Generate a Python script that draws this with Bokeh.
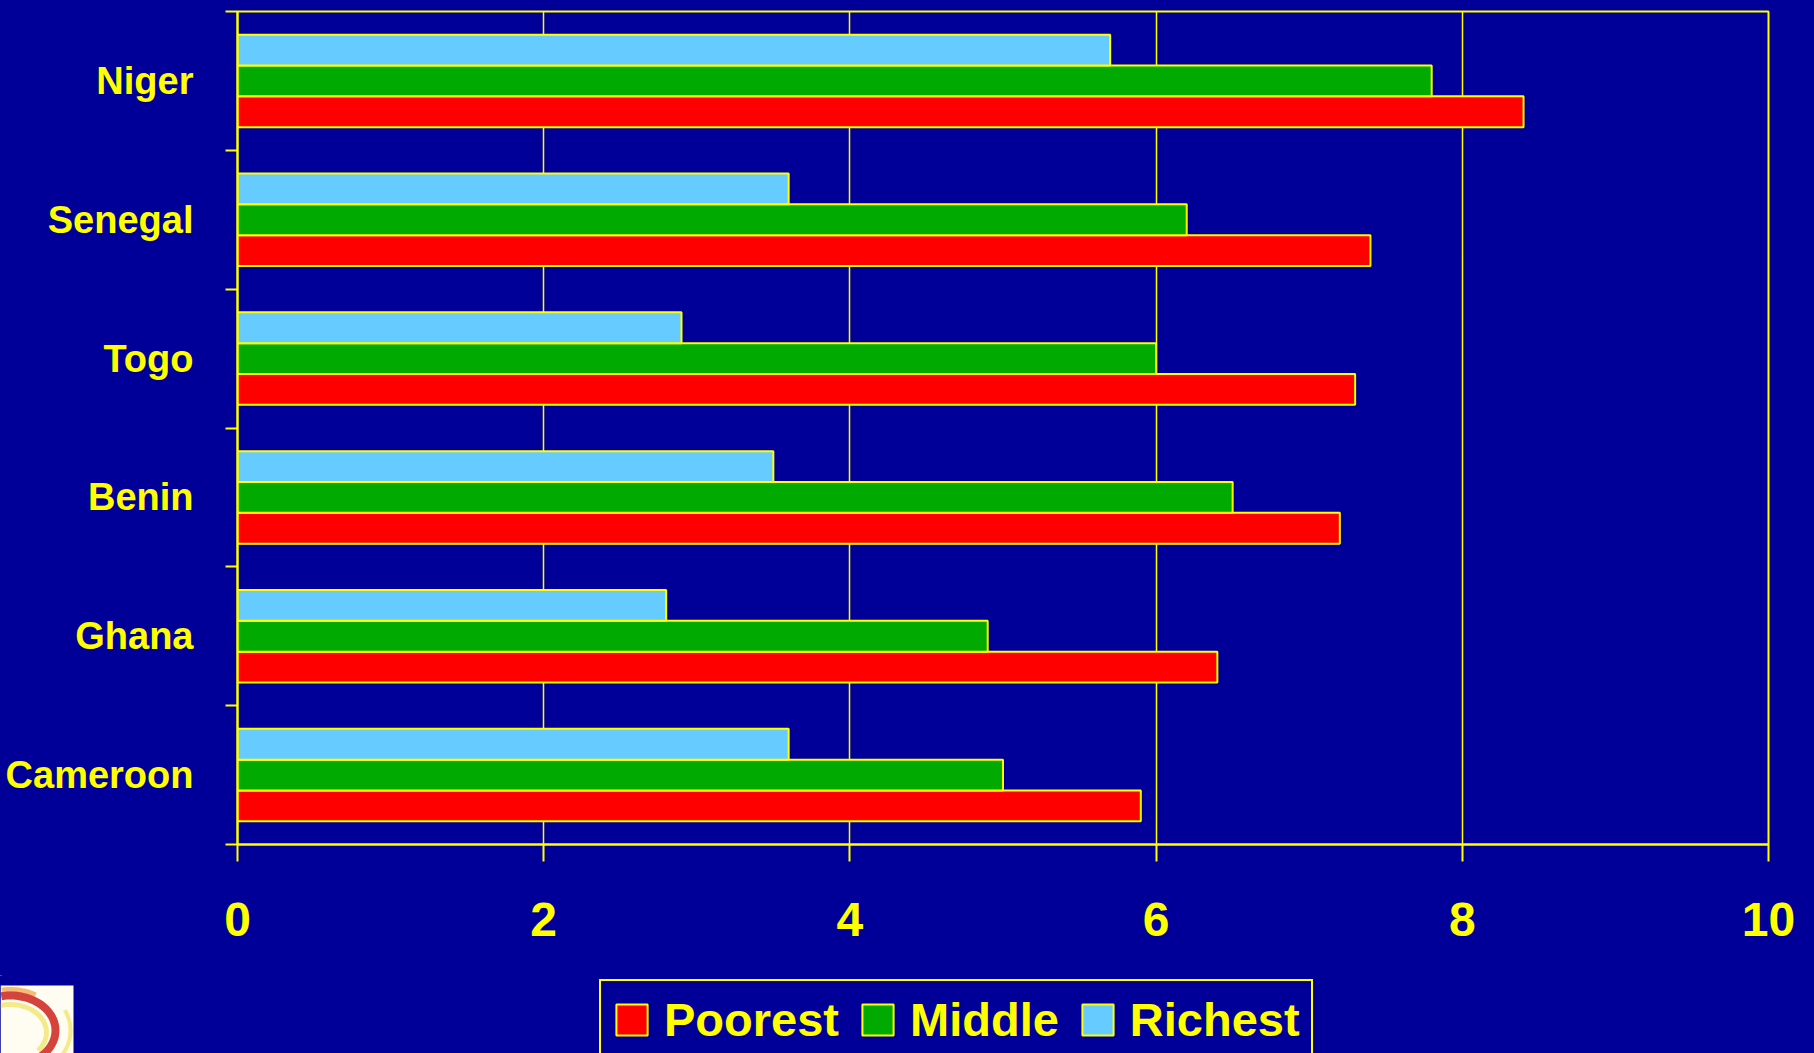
import numpy as np
from bokeh.plotting import figure
from bokeh.layouts import column
from bokeh.models import Range1d, FixedTicker, Legend, LegendItem, ColumnDataSource
from bokeh.embed import file_html
from bokeh.resources import INLINE

# ---- data ----
countries = ["Cameroon", "Ghana", "Benin", "Togo", "Senegal", "Niger"]
poorest = [5.9, 6.4, 7.2, 7.3, 7.4, 8.4]
middle = [5.0, 4.9, 6.5, 6.0, 6.2, 7.8]
richest = [3.6, 2.8, 3.5, 2.9, 3.6, 5.7]
series_names = ["Poorest", "Middle", "Richest"]
x_ticks = [0, 2, 4, 6, 8, 10]

# ---- style ----
BG = "#000099"
YEL = "#FFFF00"
COLORS = ["#FF0000", "#00AA00", "#66CCFF"]
FONT = "Liberation Sans"
BAR_H = 0.222
W = 1814
H_MAIN = 975
H_BOT = 78

p = figure(width=W, height=H_MAIN, output_backend="svg", toolbar_location=None,
           x_range=Range1d(0, 10), y_range=Range1d(0, len(countries)),
           min_border_left=237, min_border_right=46, min_border_top=11, min_border_bottom=131,
           background_fill_color=BG, border_fill_color=BG,
           outline_line_color=YEL, outline_line_width=2)
p.frame_align = False

centers = [i + 0.5 for i in range(len(countries))]

for k, (name, vals, col) in enumerate(zip(series_names, [poorest, middle, richest], COLORS)):
    ys = [c + (k - 1) * BAR_H for c in centers]
    src = ColumnDataSource(dict(y=ys, v=vals))
    p.hbar(y="y", right="v", left=0, height=BAR_H, source=src,
           fill_color=col, line_color=YEL, line_width=2)

# grid
p.ygrid.visible = False
p.xgrid.ticker = FixedTicker(ticks=x_ticks)
p.xgrid.grid_line_color = YEL
p.xgrid.grid_line_width = 1.5
p.xgrid.grid_line_alpha = 1

# x axis
xa = p.xaxis[0]
xa.ticker = FixedTicker(ticks=x_ticks)
xa.axis_line_color = YEL
xa.axis_line_width = 2
xa.major_tick_line_color = YEL
xa.major_tick_line_width = 2
xa.major_tick_out = 17
xa.major_tick_in = 0
xa.minor_tick_line_color = None
xa.major_label_text_color = YEL
xa.major_label_text_font = FONT
xa.major_label_text_font_style = "bold"
xa.major_label_text_font_size = "48px"
xa.major_label_standoff = 41

# y axis
ya = p.yaxis[0]
ya.ticker = FixedTicker(ticks=centers, minor_ticks=list(range(len(countries) + 1)))
ya.major_label_overrides = {c: n for c, n in zip(centers, countries)}
ya.axis_line_color = YEL
ya.axis_line_width = 2
ya.major_tick_line_color = None
ya.major_tick_out = 0
ya.major_tick_in = 0
ya.minor_tick_line_color = YEL
ya.minor_tick_line_width = 2
ya.minor_tick_out = 12
ya.minor_tick_in = 0
ya.major_label_text_color = YEL
ya.major_label_text_font = FONT
ya.major_label_text_font_style = "bold"
ya.major_label_text_font_size = "38px"
ya.major_label_standoff = 32

# ---- bottom strip: legend + logo ----
p2 = figure(width=W, height=H_BOT, output_backend="svg", toolbar_location=None,
            x_range=Range1d(0, W), y_range=Range1d(H_MAIN + H_BOT, H_MAIN),
            x_axis_type=None, y_axis_type=None,
            min_border=0, min_border_left=0, min_border_right=0,
            min_border_top=0, min_border_bottom=0,
            background_fill_color=BG, border_fill_color=BG, outline_line_color=None)
p2.frame_align = False
p2.grid.visible = False

# legend swatch proxies (zero-size, outside the visible range)
items = []
for name, col in zip(series_names, COLORS):
    r = p2.hbar(y=[0], right=[0], left=0, height=0, fill_color=col,
                line_color=YEL, line_width=2)
    items.append(LegendItem(label=name, renderers=[r]))

legend = Legend(items=items, orientation="horizontal", location=(599, -7),
                glyph_width=39, glyph_height=39, label_standoff=13, spacing=19,
                padding=11, margin=0,
                label_text_color=YEL, label_text_font=FONT, label_text_font_style="bold",
                label_text_font_size="47px",
                background_fill_color=BG, background_fill_alpha=1,
                border_line_color=YEL, border_line_width=2, border_line_alpha=1)
p2.add_layout(legend, "center")

# logo (decoration)
p2.quad(left=0, right=73, top=985, bottom=H_MAIN + H_BOT + 5, fill_color="#FFFDF2",
        line_color=None)

def arc_xy(cx, cy, rx, ry, th, a0, a1):
    a = np.radians(np.linspace(a0, a1, 40))
    xo = cx + (rx + th / 2) * np.cos(a)
    yo = cy - (ry + th / 2) * np.sin(a)
    xi = cx + (rx - th / 2) * np.cos(a[::-1])
    yi = cy - (ry - th / 2) * np.sin(a[::-1])
    return list(np.concatenate([xo, xi])), list(np.concatenate([yo, yi]))

for (cx, cy, rx, ry, th, a0, a1, col, al) in [
        (10, 1030, 50, 41, 5, 100, 60, "#F0A040", 0.7),
        (10, 1032, 36, 28, 5, 178, -40, "#EEDD44", 0.6),
        (10, 1030, 60, 48, 4, 25, -35, "#EEDD44", 0.6),
        (10, 1030, 45, 35, 8, 102, -52, "#D03028", 0.9)]:
    xs, ys = arc_xy(cx, cy, rx, ry, th, a0, a1)
    xs = [min(max(v, 0), 73) for v in xs]
    ys = [max(v, 985) for v in ys]
    p2.patch(xs, ys, fill_color=col, fill_alpha=al, line_color=None)

layout = column(p, p2, spacing=0, styles={"background-color": BG})
open("out.html", "w").write(file_html(layout, INLINE))
